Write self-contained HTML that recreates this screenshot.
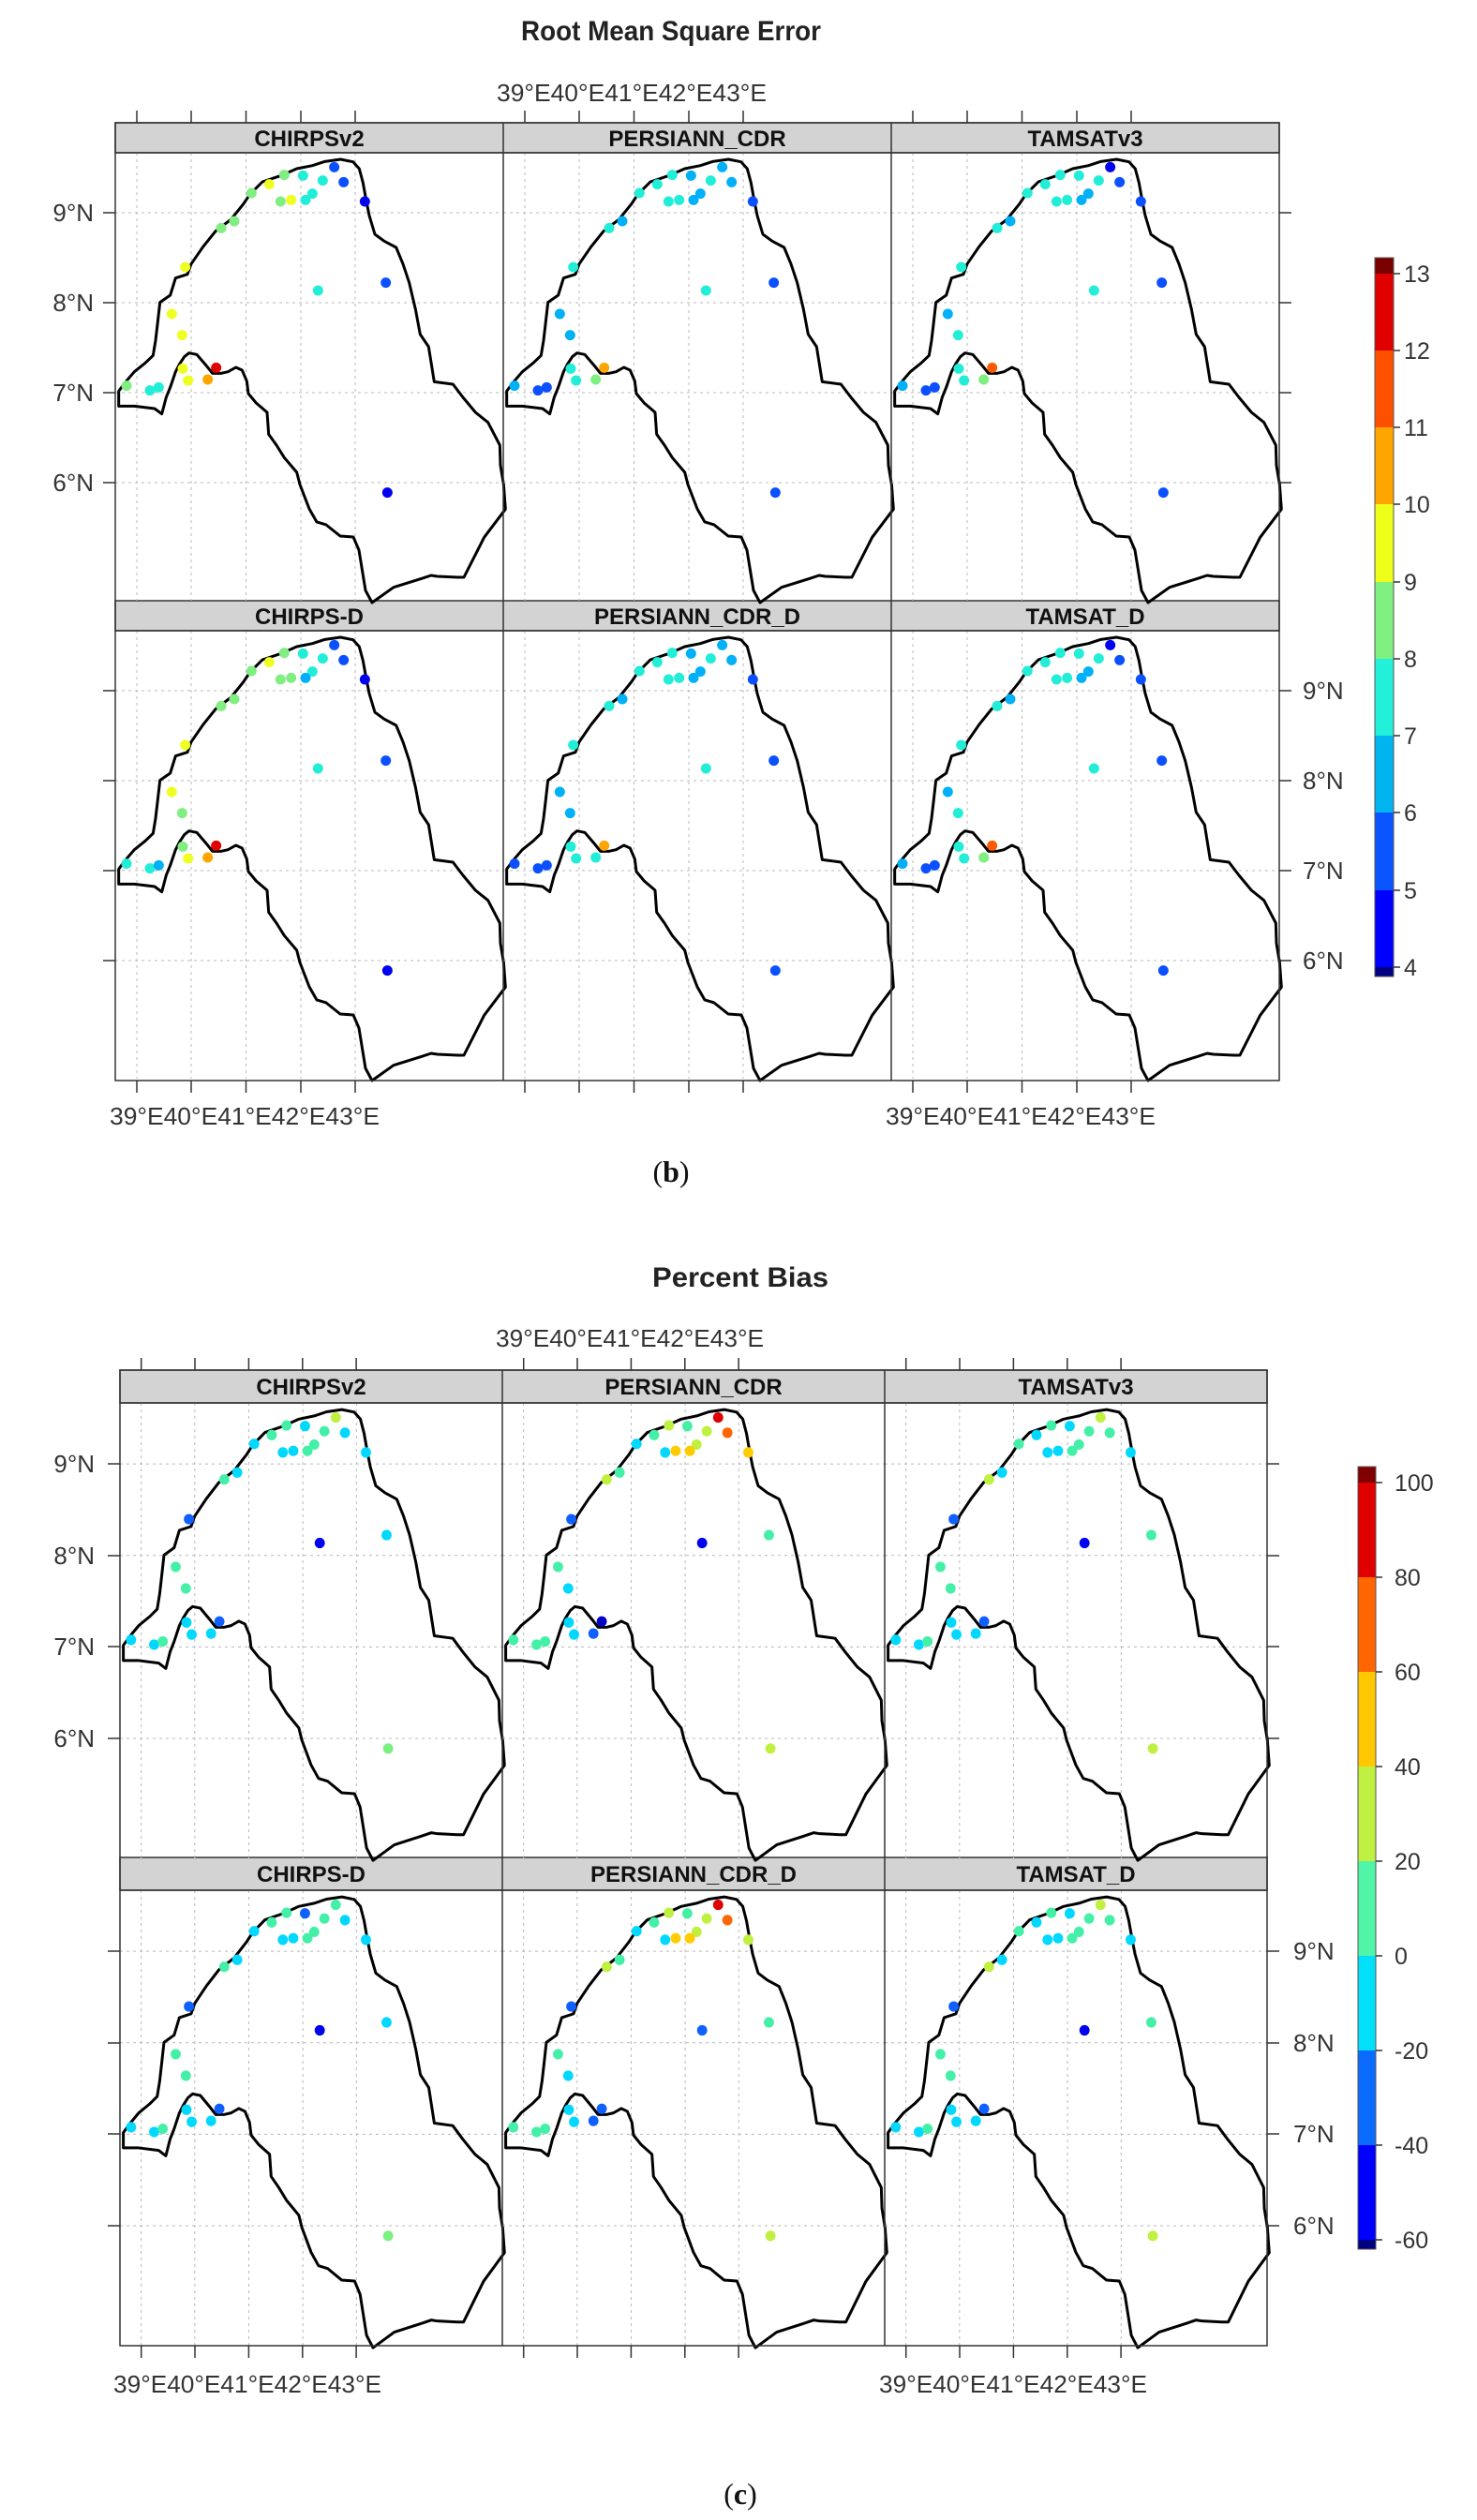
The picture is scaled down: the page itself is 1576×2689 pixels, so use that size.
<!DOCTYPE html>
<html><head><meta charset="utf-8">
<style>
html,body{margin:0;padding:0;background:#fff;}
svg{display:block;}
.t{font-family:"Liberation Sans",Arial,sans-serif;fill:#222;}
.h{font-family:"Liberation Sans",Arial,sans-serif;font-weight:bold;font-size:24px;fill:#111;}
.ax{font-family:"Liberation Sans",Arial,sans-serif;font-size:26px;fill:#333;}
.cb{font-family:"Liberation Sans",Arial,sans-serif;font-size:25px;fill:#333;}
</style></head><body>
<svg xmlns="http://www.w3.org/2000/svg" xmlns:xlink="http://www.w3.org/1999/xlink" width="1576" height="2689" viewBox="0 0 1576 2689">
<defs>
<g id="map">
 <g stroke="#b8b8b8" stroke-width="1" stroke-dasharray="3,4" fill="none" vector-effect="non-scaling-stroke">
  <line x1="23" y1="0" x2="23" y2="478" vector-effect="non-scaling-stroke"/>
  <line x1="81" y1="0" x2="81" y2="478" vector-effect="non-scaling-stroke"/>
  <line x1="139.5" y1="0" x2="139.5" y2="478" vector-effect="non-scaling-stroke"/>
  <line x1="198" y1="0" x2="198" y2="478" vector-effect="non-scaling-stroke"/>
  <line x1="256" y1="0" x2="256" y2="478" vector-effect="non-scaling-stroke"/>
  <line x1="0" y1="64" x2="414" y2="64" vector-effect="non-scaling-stroke"/>
  <line x1="0" y1="160" x2="414" y2="160" vector-effect="non-scaling-stroke"/>
  <line x1="0" y1="256" x2="414" y2="256" vector-effect="non-scaling-stroke"/>
  <line x1="0" y1="352" x2="414" y2="352" vector-effect="non-scaling-stroke"/>
 </g>
 <g transform="translate(-23,-33) scale(0.33333)">
  <path fill="none" stroke="#000" stroke-width="3" stroke-linejoin="round" vector-effect="non-scaling-stroke"
   d="M80,910 L80,862 L100,835 L130,800 L165,772 L190,748 L198,700 L205,640 L212,578 L245,555 L262,500 L300,488 L312,455 L350,400 L390,350 L440,312 L480,262 L500,232 L540,192 L600,172 L650,150 L700,140 L740,127 L790,120 L830,128 L850,150 L862,195 L872,250 L882,300 L900,360 L930,382 L968,402 L990,455 L1010,515 L1030,600 L1045,680 L1072,720 L1090,832 L1150,840 L1182,882 L1222,930 L1262,962 L1300,1035 L1302,1100 L1312,1160 L1318,1240 L1250,1330 L1185,1458 L1165,1458 L1100,1455 L1080,1452 L1050,1462 L960,1490 L891,1539 L870,1500 L849,1371 L831,1329 L789,1326 L744,1290 L714,1281 L690,1239 L660,1161 L650,1122 L610,1075 L585,1035 L560,1000 L555,930 L520,900 L495,870 L490,830 L475,795 L455,786 L430,800 L408,805 L380,805 L360,780 L330,745 L305,740 L290,752 L275,775 L262,800 L245,850 L232,882 L218,935 L195,918 L130,910 Z"/>
 </g>
</g>
<circle id="p1" cx="770" cy="145" r="16.5"/>
<circle id="p2" cx="800" cy="193" r="16.5"/>
<circle id="p3" cx="868" cy="255" r="16.5"/>
<circle id="p4" cx="670" cy="172" r="16.5"/>
<circle id="p5" cx="733" cy="188" r="16.5"/>
<circle id="p6" cx="700" cy="230" r="16.5"/>
<circle id="p7" cx="678" cy="250" r="16.5"/>
<circle id="p8" cx="610" cy="170" r="16.5"/>
<circle id="p9" cx="562" cy="200" r="16.5"/>
<circle id="p10" cx="632" cy="250" r="16.5"/>
<circle id="p11" cx="598" cy="255" r="16.5"/>
<circle id="p12" cx="505" cy="228" r="16.5"/>
<circle id="p13" cx="450" cy="318" r="16.5"/>
<circle id="p14" cx="408" cy="340" r="16.5"/>
<circle id="p15" cx="293" cy="465" r="16.5"/>
<circle id="p16" cx="935" cy="515" r="16.5"/>
<circle id="p17" cx="718" cy="540" r="16.5"/>
<circle id="p18" cx="250" cy="615" r="16.5"/>
<circle id="p19" cx="283" cy="683" r="16.5"/>
<circle id="p20" cx="285" cy="790" r="16.5"/>
<circle id="p21" cx="392" cy="787" r="16.5"/>
<circle id="p22" cx="365" cy="825" r="16.5"/>
<circle id="p23" cx="302" cy="828" r="16.5"/>
<circle id="p24" cx="105" cy="845" r="16.5"/>
<circle id="p25" cx="180" cy="860" r="16.5"/>
<circle id="p26" cx="208" cy="850" r="16.5"/>
<circle id="p27" cx="940" cy="1187" r="16.5"/>
</defs>

<!-- ============ CHART 1: RMSE ============ -->
<text x="716" y="43" class="t" font-weight="bold" font-size="30" text-anchor="middle" textLength="320" lengthAdjust="spacingAndGlyphs">Root Mean Square Error</text>
<text x="530" y="108" class="ax" textLength="288" lengthAdjust="spacingAndGlyphs">39°E40°E41°E42°E43°E</text>

<!-- ticks chart1 -->
<g stroke="#333" stroke-width="1.5">
 <line x1="146" y1="118" x2="146" y2="131"/><line x1="204" y1="118" x2="204" y2="131"/><line x1="262.5" y1="118" x2="262.5" y2="131"/><line x1="321" y1="118" x2="321" y2="131"/><line x1="379" y1="118" x2="379" y2="131"/>
 <line x1="560" y1="118" x2="560" y2="131"/><line x1="618" y1="118" x2="618" y2="131"/><line x1="676.5" y1="118" x2="676.5" y2="131"/><line x1="735" y1="118" x2="735" y2="131"/><line x1="793" y1="118" x2="793" y2="131"/>
 <line x1="974" y1="118" x2="974" y2="131"/><line x1="1032" y1="118" x2="1032" y2="131"/><line x1="1090.5" y1="118" x2="1090.5" y2="131"/><line x1="1149" y1="118" x2="1149" y2="131"/><line x1="1207" y1="118" x2="1207" y2="131"/>
 <line x1="146" y1="1153" x2="146" y2="1166"/><line x1="204" y1="1153" x2="204" y2="1166"/><line x1="262.5" y1="1153" x2="262.5" y2="1166"/><line x1="321" y1="1153" x2="321" y2="1166"/><line x1="379" y1="1153" x2="379" y2="1166"/>
 <line x1="560" y1="1153" x2="560" y2="1166"/><line x1="618" y1="1153" x2="618" y2="1166"/><line x1="676.5" y1="1153" x2="676.5" y2="1166"/><line x1="735" y1="1153" x2="735" y2="1166"/><line x1="793" y1="1153" x2="793" y2="1166"/>
 <line x1="974" y1="1153" x2="974" y2="1166"/><line x1="1032" y1="1153" x2="1032" y2="1166"/><line x1="1090.5" y1="1153" x2="1090.5" y2="1166"/><line x1="1149" y1="1153" x2="1149" y2="1166"/><line x1="1207" y1="1153" x2="1207" y2="1166"/>
 <line x1="110" y1="227" x2="123" y2="227"/><line x1="110" y1="323" x2="123" y2="323"/><line x1="110" y1="419" x2="123" y2="419"/><line x1="110" y1="515" x2="123" y2="515"/>
 <line x1="110" y1="737" x2="123" y2="737"/><line x1="110" y1="833" x2="123" y2="833"/><line x1="110" y1="929" x2="123" y2="929"/><line x1="110" y1="1025" x2="123" y2="1025"/>
 <line x1="1365" y1="227" x2="1378" y2="227"/><line x1="1365" y1="323" x2="1378" y2="323"/><line x1="1365" y1="419" x2="1378" y2="419"/><line x1="1365" y1="515" x2="1378" y2="515"/>
 <line x1="1365" y1="737" x2="1378" y2="737"/><line x1="1365" y1="833" x2="1378" y2="833"/><line x1="1365" y1="929" x2="1378" y2="929"/><line x1="1365" y1="1025" x2="1378" y2="1025"/>
</g>
<g class="ax" text-anchor="end">
 <text x="100" y="236">9°N</text><text x="100" y="332">8°N</text><text x="100" y="428">7°N</text><text x="100" y="524">6°N</text>
</g>
<g class="ax">
 <text x="1390" y="746">9°N</text><text x="1390" y="842">8°N</text><text x="1390" y="938">7°N</text><text x="1390" y="1034">6°N</text>
</g>
<text x="117" y="1200" class="ax" textLength="288" lengthAdjust="spacingAndGlyphs">39°E40°E41°E42°E43°E</text>
<text x="945" y="1200" class="ax" textLength="288" lengthAdjust="spacingAndGlyphs">39°E40°E41°E42°E43°E</text>

<!-- headers chart1 -->
<g fill="#d3d3d3" stroke="#333" stroke-width="1.5">
 <rect x="123" y="131" width="1242" height="32"/>
 <rect x="123" y="641" width="1242" height="32"/>
</g>
<g class="h" text-anchor="middle">
 <text x="330" y="156">CHIRPSv2</text><text x="744" y="156">PERSIANN_CDR</text><text x="1158" y="156">TAMSATv3</text>
 <text x="330" y="666">CHIRPS-D</text><text x="744" y="666">PERSIANN_CDR_D</text><text x="1158" y="666">TAMSAT_D</text>
</g>

<!-- panels chart1 -->
<g transform="translate(123,163)"><use xlink:href="#map"/><g transform="translate(-23,-33) scale(0.33333)">
<use xlink:href="#p1" fill="#0a50ff"/><use xlink:href="#p2" fill="#0a50ff"/><use xlink:href="#p3" fill="#0000f0"/><use xlink:href="#p4" fill="#22eed8"/><use xlink:href="#p5" fill="#22eed8"/><use xlink:href="#p6" fill="#22eed8"/><use xlink:href="#p7" fill="#22eed8"/><use xlink:href="#p8" fill="#80ee80"/><use xlink:href="#p9" fill="#f0ff22"/><use xlink:href="#p10" fill="#f0ff22"/><use xlink:href="#p11" fill="#80ee80"/><use xlink:href="#p12" fill="#80ee80"/><use xlink:href="#p13" fill="#80ee80"/><use xlink:href="#p14" fill="#80ee80"/><use xlink:href="#p15" fill="#f0ff22"/><use xlink:href="#p16" fill="#0a50ff"/><use xlink:href="#p17" fill="#22eed8"/><use xlink:href="#p18" fill="#f0ff22"/><use xlink:href="#p19" fill="#f0ff22"/><use xlink:href="#p20" fill="#f0ff22"/><use xlink:href="#p21" fill="#e00000"/><use xlink:href="#p22" fill="#ffa500"/><use xlink:href="#p23" fill="#f0ff22"/><use xlink:href="#p24" fill="#80ee80"/><use xlink:href="#p25" fill="#22eed8"/><use xlink:href="#p26" fill="#22eed8"/><use xlink:href="#p27" fill="#0000f0"/>
</g></g>
<g transform="translate(537,163)"><use xlink:href="#map"/><g transform="translate(-23,-33) scale(0.33333)">
<use xlink:href="#p1" fill="#00b0f8"/><use xlink:href="#p2" fill="#00b0f8"/><use xlink:href="#p3" fill="#0a50ff"/><use xlink:href="#p4" fill="#00b0f8"/><use xlink:href="#p5" fill="#22eed8"/><use xlink:href="#p6" fill="#00b0f8"/><use xlink:href="#p7" fill="#00b0f8"/><use xlink:href="#p8" fill="#22eed8"/><use xlink:href="#p9" fill="#22eed8"/><use xlink:href="#p10" fill="#22eed8"/><use xlink:href="#p11" fill="#22eed8"/><use xlink:href="#p12" fill="#22eed8"/><use xlink:href="#p13" fill="#00b0f8"/><use xlink:href="#p14" fill="#22eed8"/><use xlink:href="#p15" fill="#22eed8"/><use xlink:href="#p16" fill="#0a50ff"/><use xlink:href="#p17" fill="#22eed8"/><use xlink:href="#p18" fill="#00b0f8"/><use xlink:href="#p19" fill="#00b0f8"/><use xlink:href="#p20" fill="#22eed8"/><use xlink:href="#p21" fill="#ffa500"/><use xlink:href="#p22" fill="#80ee80"/><use xlink:href="#p23" fill="#22eed8"/><use xlink:href="#p24" fill="#00b0f8"/><use xlink:href="#p25" fill="#0a50ff"/><use xlink:href="#p26" fill="#0a50ff"/><use xlink:href="#p27" fill="#0a50ff"/>
</g></g>
<g transform="translate(951,163)"><use xlink:href="#map"/><g transform="translate(-23,-33) scale(0.33333)">
<use xlink:href="#p1" fill="#0000f0"/><use xlink:href="#p2" fill="#0a50ff"/><use xlink:href="#p3" fill="#0a50ff"/><use xlink:href="#p4" fill="#22eed8"/><use xlink:href="#p5" fill="#22eed8"/><use xlink:href="#p6" fill="#00b0f8"/><use xlink:href="#p7" fill="#00b0f8"/><use xlink:href="#p8" fill="#22eed8"/><use xlink:href="#p9" fill="#22eed8"/><use xlink:href="#p10" fill="#22eed8"/><use xlink:href="#p11" fill="#22eed8"/><use xlink:href="#p12" fill="#22eed8"/><use xlink:href="#p13" fill="#00b0f8"/><use xlink:href="#p14" fill="#22eed8"/><use xlink:href="#p15" fill="#22eed8"/><use xlink:href="#p16" fill="#0a50ff"/><use xlink:href="#p17" fill="#22eed8"/><use xlink:href="#p18" fill="#00b0f8"/><use xlink:href="#p19" fill="#22eed8"/><use xlink:href="#p20" fill="#22eed8"/><use xlink:href="#p21" fill="#ff5a00"/><use xlink:href="#p22" fill="#80ee80"/><use xlink:href="#p23" fill="#22eed8"/><use xlink:href="#p24" fill="#00b0f8"/><use xlink:href="#p25" fill="#0a50ff"/><use xlink:href="#p26" fill="#0a50ff"/><use xlink:href="#p27" fill="#0a50ff"/>
</g></g>
<g transform="translate(123,673)"><use xlink:href="#map"/><g transform="translate(-23,-33) scale(0.33333)">
<use xlink:href="#p1" fill="#0a50ff"/><use xlink:href="#p2" fill="#0a50ff"/><use xlink:href="#p3" fill="#0000f0"/><use xlink:href="#p4" fill="#22eed8"/><use xlink:href="#p5" fill="#22eed8"/><use xlink:href="#p6" fill="#22eed8"/><use xlink:href="#p7" fill="#00b0f8"/><use xlink:href="#p8" fill="#80ee80"/><use xlink:href="#p9" fill="#f0ff22"/><use xlink:href="#p10" fill="#80ee80"/><use xlink:href="#p11" fill="#80ee80"/><use xlink:href="#p12" fill="#80ee80"/><use xlink:href="#p13" fill="#80ee80"/><use xlink:href="#p14" fill="#80ee80"/><use xlink:href="#p15" fill="#f0ff22"/><use xlink:href="#p16" fill="#0a50ff"/><use xlink:href="#p17" fill="#22eed8"/><use xlink:href="#p18" fill="#f0ff22"/><use xlink:href="#p19" fill="#80ee80"/><use xlink:href="#p20" fill="#80ee80"/><use xlink:href="#p21" fill="#e00000"/><use xlink:href="#p22" fill="#ffa500"/><use xlink:href="#p23" fill="#f0ff22"/><use xlink:href="#p24" fill="#22eed8"/><use xlink:href="#p25" fill="#22eed8"/><use xlink:href="#p26" fill="#00b0f8"/><use xlink:href="#p27" fill="#0000f0"/>
</g></g>
<g transform="translate(537,673)"><use xlink:href="#map"/><g transform="translate(-23,-33) scale(0.33333)">
<use xlink:href="#p1" fill="#00b0f8"/><use xlink:href="#p2" fill="#00b0f8"/><use xlink:href="#p3" fill="#0a50ff"/><use xlink:href="#p4" fill="#00b0f8"/><use xlink:href="#p5" fill="#22eed8"/><use xlink:href="#p6" fill="#00b0f8"/><use xlink:href="#p7" fill="#00b0f8"/><use xlink:href="#p8" fill="#22eed8"/><use xlink:href="#p9" fill="#22eed8"/><use xlink:href="#p10" fill="#22eed8"/><use xlink:href="#p11" fill="#22eed8"/><use xlink:href="#p12" fill="#22eed8"/><use xlink:href="#p13" fill="#00b0f8"/><use xlink:href="#p14" fill="#22eed8"/><use xlink:href="#p15" fill="#22eed8"/><use xlink:href="#p16" fill="#0a50ff"/><use xlink:href="#p17" fill="#22eed8"/><use xlink:href="#p18" fill="#00b0f8"/><use xlink:href="#p19" fill="#00b0f8"/><use xlink:href="#p20" fill="#22eed8"/><use xlink:href="#p21" fill="#ffa500"/><use xlink:href="#p22" fill="#22eed8"/><use xlink:href="#p23" fill="#22eed8"/><use xlink:href="#p24" fill="#0a50ff"/><use xlink:href="#p25" fill="#0a50ff"/><use xlink:href="#p26" fill="#0a50ff"/><use xlink:href="#p27" fill="#0a50ff"/>
</g></g>
<g transform="translate(951,673)"><use xlink:href="#map"/><g transform="translate(-23,-33) scale(0.33333)">
<use xlink:href="#p1" fill="#0000f0"/><use xlink:href="#p2" fill="#0a50ff"/><use xlink:href="#p3" fill="#0a50ff"/><use xlink:href="#p4" fill="#22eed8"/><use xlink:href="#p5" fill="#22eed8"/><use xlink:href="#p6" fill="#00b0f8"/><use xlink:href="#p7" fill="#00b0f8"/><use xlink:href="#p8" fill="#22eed8"/><use xlink:href="#p9" fill="#22eed8"/><use xlink:href="#p10" fill="#22eed8"/><use xlink:href="#p11" fill="#22eed8"/><use xlink:href="#p12" fill="#22eed8"/><use xlink:href="#p13" fill="#00b0f8"/><use xlink:href="#p14" fill="#22eed8"/><use xlink:href="#p15" fill="#22eed8"/><use xlink:href="#p16" fill="#0a50ff"/><use xlink:href="#p17" fill="#22eed8"/><use xlink:href="#p18" fill="#00b0f8"/><use xlink:href="#p19" fill="#22eed8"/><use xlink:href="#p20" fill="#22eed8"/><use xlink:href="#p21" fill="#ff5a00"/><use xlink:href="#p22" fill="#80ee80"/><use xlink:href="#p23" fill="#22eed8"/><use xlink:href="#p24" fill="#00b0f8"/><use xlink:href="#p25" fill="#0a50ff"/><use xlink:href="#p26" fill="#0a50ff"/><use xlink:href="#p27" fill="#0a50ff"/>
</g></g>
<!-- frames chart1 -->
<g fill="none" stroke="#333" stroke-width="1.5">
 <rect x="123" y="131" width="1242" height="1022"/>
 <line x1="537" y1="131" x2="537" y2="1153"/><line x1="951" y1="131" x2="951" y2="1153"/>
 <line x1="123" y1="163" x2="1365" y2="163"/><line x1="123" y1="673" x2="1365" y2="673"/>
</g>

<!-- colorbar 1 -->
<g>
 <rect x="1467" y="275" width="20" height="17" fill="#7a0000"/>
 <rect x="1467" y="292" width="20" height="82" fill="#e00000"/>
 <rect x="1467" y="374" width="20" height="82" fill="#ff5000"/>
 <rect x="1467" y="456" width="20" height="82" fill="#ffa500"/>
 <rect x="1467" y="538" width="20" height="83" fill="#eeff1a"/>
 <rect x="1467" y="621" width="20" height="82" fill="#80f080"/>
 <rect x="1467" y="703" width="20" height="82" fill="#22f0d8"/>
 <rect x="1467" y="785" width="20" height="82" fill="#00b4f0"/>
 <rect x="1467" y="867" width="20" height="83" fill="#0a55ff"/>
 <rect x="1467" y="950" width="20" height="82" fill="#0000ff"/>
 <rect x="1467" y="1032" width="20" height="10" fill="#000080"/>
 <rect x="1467" y="275" width="20" height="767" fill="none" stroke="#555" stroke-width="1"/>
 <g stroke="#333" stroke-width="1.5">
  <line x1="1487" y1="292" x2="1494" y2="292"/><line x1="1487" y1="374" x2="1494" y2="374"/><line x1="1487" y1="456" x2="1494" y2="456"/><line x1="1487" y1="538" x2="1494" y2="538"/><line x1="1487" y1="621" x2="1494" y2="621"/><line x1="1487" y1="703" x2="1494" y2="703"/><line x1="1487" y1="785" x2="1494" y2="785"/><line x1="1487" y1="867" x2="1494" y2="867"/><line x1="1487" y1="950" x2="1494" y2="950"/><line x1="1487" y1="1032" x2="1494" y2="1032"/>
 </g>
 <g class="cb">
  <text x="1498" y="301">13</text><text x="1498" y="383">12</text><text x="1498" y="465">11</text><text x="1498" y="547">10</text><text x="1498" y="630">9</text><text x="1498" y="712">8</text><text x="1498" y="794">7</text><text x="1498" y="876">6</text><text x="1498" y="959">5</text><text x="1498" y="1041">4</text>
 </g>
</g>

<text x="716" y="1261" font-family="Liberation Serif,serif" font-size="32" fill="#111" text-anchor="middle">(<tspan font-weight="bold">b</tspan>)</text>

<!-- ============ CHART 2: PBIAS ============ -->
<text x="790" y="1373" class="t" font-weight="bold" font-size="30" text-anchor="middle" textLength="188" lengthAdjust="spacingAndGlyphs">Percent Bias</text>
<text x="529" y="1437" class="ax" textLength="286" lengthAdjust="spacingAndGlyphs">39°E40°E41°E42°E43°E</text>

<g stroke="#333" stroke-width="1.5">
 <line x1="150.7" y1="1449" x2="150.7" y2="1462"/><line x1="208" y1="1449" x2="208" y2="1462"/><line x1="265.4" y1="1449" x2="265.4" y2="1462"/><line x1="322.8" y1="1449" x2="322.8" y2="1462"/><line x1="380.1" y1="1449" x2="380.1" y2="1462"/>
 <line x1="558.7" y1="1449" x2="558.7" y2="1462"/><line x1="616" y1="1449" x2="616" y2="1462"/><line x1="673.4" y1="1449" x2="673.4" y2="1462"/><line x1="730.8" y1="1449" x2="730.8" y2="1462"/><line x1="788.1" y1="1449" x2="788.1" y2="1462"/>
 <line x1="966.7" y1="1449" x2="966.7" y2="1462"/><line x1="1024" y1="1449" x2="1024" y2="1462"/><line x1="1081.4" y1="1449" x2="1081.4" y2="1462"/><line x1="1138.8" y1="1449" x2="1138.8" y2="1462"/><line x1="1196.1" y1="1449" x2="1196.1" y2="1462"/>
 <line x1="150.7" y1="2503" x2="150.7" y2="2516"/><line x1="208" y1="2503" x2="208" y2="2516"/><line x1="265.4" y1="2503" x2="265.4" y2="2516"/><line x1="322.8" y1="2503" x2="322.8" y2="2516"/><line x1="380.1" y1="2503" x2="380.1" y2="2516"/>
 <line x1="558.7" y1="2503" x2="558.7" y2="2516"/><line x1="616" y1="2503" x2="616" y2="2516"/><line x1="673.4" y1="2503" x2="673.4" y2="2516"/><line x1="730.8" y1="2503" x2="730.8" y2="2516"/><line x1="788.1" y1="2503" x2="788.1" y2="2516"/>
 <line x1="966.7" y1="2503" x2="966.7" y2="2516"/><line x1="1024" y1="2503" x2="1024" y2="2516"/><line x1="1081.4" y1="2503" x2="1081.4" y2="2516"/><line x1="1138.8" y1="2503" x2="1138.8" y2="2516"/><line x1="1196.1" y1="2503" x2="1196.1" y2="2516"/>
 <line x1="115" y1="1562" x2="128" y2="1562"/><line x1="115" y1="1660" x2="128" y2="1660"/><line x1="115" y1="1757" x2="128" y2="1757"/><line x1="115" y1="1855" x2="128" y2="1855"/>
 <line x1="115" y1="2082" x2="128" y2="2082"/><line x1="115" y1="2180" x2="128" y2="2180"/><line x1="115" y1="2277" x2="128" y2="2277"/><line x1="115" y1="2375" x2="128" y2="2375"/>
 <line x1="1352" y1="1562" x2="1365" y2="1562"/><line x1="1352" y1="1660" x2="1365" y2="1660"/><line x1="1352" y1="1757" x2="1365" y2="1757"/><line x1="1352" y1="1855" x2="1365" y2="1855"/>
 <line x1="1352" y1="2082" x2="1365" y2="2082"/><line x1="1352" y1="2180" x2="1365" y2="2180"/><line x1="1352" y1="2277" x2="1365" y2="2277"/><line x1="1352" y1="2375" x2="1365" y2="2375"/>
</g>
<g class="ax" text-anchor="end">
 <text x="101" y="1571">9°N</text><text x="101" y="1669">8°N</text><text x="101" y="1766">7°N</text><text x="101" y="1864">6°N</text>
</g>
<g class="ax">
 <text x="1380" y="2091">9°N</text><text x="1380" y="2189">8°N</text><text x="1380" y="2286">7°N</text><text x="1380" y="2384">6°N</text>
</g>
<text x="121" y="2553" class="ax" textLength="286" lengthAdjust="spacingAndGlyphs">39°E40°E41°E42°E43°E</text>
<text x="938" y="2553" class="ax" textLength="286" lengthAdjust="spacingAndGlyphs">39°E40°E41°E42°E43°E</text>

<g fill="#d3d3d3" stroke="#333" stroke-width="1.5">
 <rect x="128" y="1462" width="1224" height="35"/>
 <rect x="128" y="1982" width="1224" height="35"/>
</g>
<g class="h" text-anchor="middle">
 <text x="332" y="1488">CHIRPSv2</text><text x="740" y="1488">PERSIANN_CDR</text><text x="1148" y="1488">TAMSATv3</text>
 <text x="332" y="2008">CHIRPS-D</text><text x="740" y="2008">PERSIANN_CDR_D</text><text x="1148" y="2008">TAMSAT_D</text>
</g>

<g transform="translate(128,1497) scale(0.9855,1.017)"><use xlink:href="#map"/><g transform="translate(-23,-33) scale(0.33333)">
<use xlink:href="#p1" fill="#c0f040"/><use xlink:href="#p2" fill="#00d8ff"/><use xlink:href="#p3" fill="#00d8ff"/><use xlink:href="#p4" fill="#00d8ff"/><use xlink:href="#p5" fill="#44f0a8"/><use xlink:href="#p6" fill="#44f0a8"/><use xlink:href="#p7" fill="#44f0a8"/><use xlink:href="#p8" fill="#44f0a8"/><use xlink:href="#p9" fill="#44f0a8"/><use xlink:href="#p10" fill="#00d8ff"/><use xlink:href="#p11" fill="#00d8ff"/><use xlink:href="#p12" fill="#00d8ff"/><use xlink:href="#p13" fill="#00d8ff"/><use xlink:href="#p14" fill="#44f0a8"/><use xlink:href="#p15" fill="#1060ff"/><use xlink:href="#p16" fill="#00d8ff"/><use xlink:href="#p17" fill="#0000f0"/><use xlink:href="#p18" fill="#44f0a8"/><use xlink:href="#p19" fill="#44f0a8"/><use xlink:href="#p20" fill="#00d8ff"/><use xlink:href="#p21" fill="#1060ff"/><use xlink:href="#p22" fill="#00d8ff"/><use xlink:href="#p23" fill="#00d8ff"/><use xlink:href="#p24" fill="#00d8ff"/><use xlink:href="#p25" fill="#00d8ff"/><use xlink:href="#p26" fill="#44f0a8"/><use xlink:href="#p27" fill="#7af080"/>
</g></g>
<g transform="translate(536,1497) scale(0.9855,1.017)"><use xlink:href="#map"/><g transform="translate(-23,-33) scale(0.33333)">
<use xlink:href="#p1" fill="#e00000"/><use xlink:href="#p2" fill="#ff6600"/><use xlink:href="#p3" fill="#ffcc00"/><use xlink:href="#p4" fill="#44f0a8"/><use xlink:href="#p5" fill="#c0f040"/><use xlink:href="#p6" fill="#c0f040"/><use xlink:href="#p7" fill="#ffcc00"/><use xlink:href="#p8" fill="#c0f040"/><use xlink:href="#p9" fill="#44f0a8"/><use xlink:href="#p10" fill="#ffcc00"/><use xlink:href="#p11" fill="#00d8ff"/><use xlink:href="#p12" fill="#00d8ff"/><use xlink:href="#p13" fill="#44f0a8"/><use xlink:href="#p14" fill="#c0f040"/><use xlink:href="#p15" fill="#1060ff"/><use xlink:href="#p16" fill="#44f0a8"/><use xlink:href="#p17" fill="#0000f0"/><use xlink:href="#p18" fill="#44f0a8"/><use xlink:href="#p19" fill="#00d8ff"/><use xlink:href="#p20" fill="#00d8ff"/><use xlink:href="#p21" fill="#0000c8"/><use xlink:href="#p22" fill="#1060ff"/><use xlink:href="#p23" fill="#00d8ff"/><use xlink:href="#p24" fill="#44f0a8"/><use xlink:href="#p25" fill="#44f0a8"/><use xlink:href="#p26" fill="#44f0a8"/><use xlink:href="#p27" fill="#c0f040"/>
</g></g>
<g transform="translate(944,1497) scale(0.9855,1.017)"><use xlink:href="#map"/><g transform="translate(-23,-33) scale(0.33333)">
<use xlink:href="#p1" fill="#c0f040"/><use xlink:href="#p2" fill="#44f0a8"/><use xlink:href="#p3" fill="#00d8ff"/><use xlink:href="#p4" fill="#00d8ff"/><use xlink:href="#p5" fill="#44f0a8"/><use xlink:href="#p6" fill="#44f0a8"/><use xlink:href="#p7" fill="#44f0a8"/><use xlink:href="#p8" fill="#44f0a8"/><use xlink:href="#p9" fill="#00d8ff"/><use xlink:href="#p10" fill="#00d8ff"/><use xlink:href="#p11" fill="#00d8ff"/><use xlink:href="#p12" fill="#44f0a8"/><use xlink:href="#p13" fill="#00d8ff"/><use xlink:href="#p14" fill="#c0f040"/><use xlink:href="#p15" fill="#1060ff"/><use xlink:href="#p16" fill="#44f0a8"/><use xlink:href="#p17" fill="#0000f0"/><use xlink:href="#p18" fill="#44f0a8"/><use xlink:href="#p19" fill="#44f0a8"/><use xlink:href="#p20" fill="#00d8ff"/><use xlink:href="#p21" fill="#1060ff"/><use xlink:href="#p22" fill="#00d8ff"/><use xlink:href="#p23" fill="#00d8ff"/><use xlink:href="#p24" fill="#00d8ff"/><use xlink:href="#p25" fill="#00d8ff"/><use xlink:href="#p26" fill="#44f0a8"/><use xlink:href="#p27" fill="#c0f040"/>
</g></g>
<g transform="translate(128,2017) scale(0.9855,1.017)"><use xlink:href="#map"/><g transform="translate(-23,-33) scale(0.33333)">
<use xlink:href="#p1" fill="#44f0a8"/><use xlink:href="#p2" fill="#00d8ff"/><use xlink:href="#p3" fill="#00d8ff"/><use xlink:href="#p4" fill="#1060ff"/><use xlink:href="#p5" fill="#44f0a8"/><use xlink:href="#p6" fill="#44f0a8"/><use xlink:href="#p7" fill="#44f0a8"/><use xlink:href="#p8" fill="#44f0a8"/><use xlink:href="#p9" fill="#44f0a8"/><use xlink:href="#p10" fill="#00d8ff"/><use xlink:href="#p11" fill="#00d8ff"/><use xlink:href="#p12" fill="#00d8ff"/><use xlink:href="#p13" fill="#00d8ff"/><use xlink:href="#p14" fill="#44f0a8"/><use xlink:href="#p15" fill="#1060ff"/><use xlink:href="#p16" fill="#00d8ff"/><use xlink:href="#p17" fill="#0000f0"/><use xlink:href="#p18" fill="#44f0a8"/><use xlink:href="#p19" fill="#44f0a8"/><use xlink:href="#p20" fill="#00d8ff"/><use xlink:href="#p21" fill="#1060ff"/><use xlink:href="#p22" fill="#00d8ff"/><use xlink:href="#p23" fill="#00d8ff"/><use xlink:href="#p24" fill="#00d8ff"/><use xlink:href="#p25" fill="#00d8ff"/><use xlink:href="#p26" fill="#44f0a8"/><use xlink:href="#p27" fill="#7af080"/>
</g></g>
<g transform="translate(536,2017) scale(0.9855,1.017)"><use xlink:href="#map"/><g transform="translate(-23,-33) scale(0.33333)">
<use xlink:href="#p1" fill="#e00000"/><use xlink:href="#p2" fill="#ff6600"/><use xlink:href="#p3" fill="#c0f040"/><use xlink:href="#p4" fill="#44f0a8"/><use xlink:href="#p5" fill="#c0f040"/><use xlink:href="#p6" fill="#c0f040"/><use xlink:href="#p7" fill="#ffcc00"/><use xlink:href="#p8" fill="#c0f040"/><use xlink:href="#p9" fill="#44f0a8"/><use xlink:href="#p10" fill="#ffcc00"/><use xlink:href="#p11" fill="#00d8ff"/><use xlink:href="#p12" fill="#00d8ff"/><use xlink:href="#p13" fill="#44f0a8"/><use xlink:href="#p14" fill="#c0f040"/><use xlink:href="#p15" fill="#1060ff"/><use xlink:href="#p16" fill="#44f0a8"/><use xlink:href="#p17" fill="#1060ff"/><use xlink:href="#p18" fill="#44f0a8"/><use xlink:href="#p19" fill="#00d8ff"/><use xlink:href="#p20" fill="#00d8ff"/><use xlink:href="#p21" fill="#1060ff"/><use xlink:href="#p22" fill="#1060ff"/><use xlink:href="#p23" fill="#00d8ff"/><use xlink:href="#p24" fill="#44f0a8"/><use xlink:href="#p25" fill="#44f0a8"/><use xlink:href="#p26" fill="#44f0a8"/><use xlink:href="#p27" fill="#c0f040"/>
</g></g>
<g transform="translate(944,2017) scale(0.9855,1.017)"><use xlink:href="#map"/><g transform="translate(-23,-33) scale(0.33333)">
<use xlink:href="#p1" fill="#c0f040"/><use xlink:href="#p2" fill="#44f0a8"/><use xlink:href="#p3" fill="#00d8ff"/><use xlink:href="#p4" fill="#00d8ff"/><use xlink:href="#p5" fill="#44f0a8"/><use xlink:href="#p6" fill="#44f0a8"/><use xlink:href="#p7" fill="#44f0a8"/><use xlink:href="#p8" fill="#44f0a8"/><use xlink:href="#p9" fill="#00d8ff"/><use xlink:href="#p10" fill="#00d8ff"/><use xlink:href="#p11" fill="#00d8ff"/><use xlink:href="#p12" fill="#44f0a8"/><use xlink:href="#p13" fill="#00d8ff"/><use xlink:href="#p14" fill="#c0f040"/><use xlink:href="#p15" fill="#1060ff"/><use xlink:href="#p16" fill="#44f0a8"/><use xlink:href="#p17" fill="#0000f0"/><use xlink:href="#p18" fill="#44f0a8"/><use xlink:href="#p19" fill="#44f0a8"/><use xlink:href="#p20" fill="#00d8ff"/><use xlink:href="#p21" fill="#1060ff"/><use xlink:href="#p22" fill="#00d8ff"/><use xlink:href="#p23" fill="#00d8ff"/><use xlink:href="#p24" fill="#00d8ff"/><use xlink:href="#p25" fill="#00d8ff"/><use xlink:href="#p26" fill="#44f0a8"/><use xlink:href="#p27" fill="#c0f040"/>
</g></g>
<g fill="none" stroke="#333" stroke-width="1.5">
 <rect x="128" y="1462" width="1224" height="1041"/>
 <line x1="536" y1="1462" x2="536" y2="2503"/><line x1="944" y1="1462" x2="944" y2="2503"/>
 <line x1="128" y1="1497" x2="1352" y2="1497"/><line x1="128" y1="2017" x2="1352" y2="2017"/>
</g>

<!-- colorbar 2 -->
<g>
 <rect x="1449" y="1565" width="19" height="17" fill="#800000"/>
 <rect x="1449" y="1582" width="19" height="101" fill="#e00000"/>
 <rect x="1449" y="1683" width="19" height="101" fill="#ff6600"/>
 <rect x="1449" y="1784" width="19" height="101" fill="#ffc800"/>
 <rect x="1449" y="1885" width="19" height="101" fill="#c0f040"/>
 <rect x="1449" y="1986" width="19" height="101" fill="#50f5a8"/>
 <rect x="1449" y="2087" width="19" height="101" fill="#00e0f8"/>
 <rect x="1449" y="2188" width="19" height="101" fill="#0a6cff"/>
 <rect x="1449" y="2289" width="19" height="101" fill="#0000ff"/>
 <rect x="1449" y="2390" width="19" height="10" fill="#000080"/>
 <rect x="1449" y="1565" width="19" height="835" fill="none" stroke="#555" stroke-width="1"/>
 <g stroke="#333" stroke-width="1.5">
  <line x1="1468" y1="1582" x2="1475" y2="1582"/><line x1="1468" y1="1683" x2="1475" y2="1683"/><line x1="1468" y1="1784" x2="1475" y2="1784"/><line x1="1468" y1="1885" x2="1475" y2="1885"/><line x1="1468" y1="1986" x2="1475" y2="1986"/><line x1="1468" y1="2087" x2="1475" y2="2087"/><line x1="1468" y1="2188" x2="1475" y2="2188"/><line x1="1468" y1="2289" x2="1475" y2="2289"/><line x1="1468" y1="2390" x2="1475" y2="2390"/>
 </g>
 <g class="cb">
  <text x="1488" y="1591">100</text><text x="1488" y="1692">80</text><text x="1488" y="1793">60</text><text x="1488" y="1894">40</text><text x="1488" y="1995">20</text><text x="1488" y="2096">0</text><text x="1488" y="2197">-20</text><text x="1488" y="2298">-40</text><text x="1488" y="2399">-60</text>
 </g>
</g>

<text x="790" y="2672" font-family="Liberation Serif,serif" font-size="32" fill="#111" text-anchor="middle">(<tspan font-weight="bold">c</tspan>)</text>
</svg>
</body></html>
